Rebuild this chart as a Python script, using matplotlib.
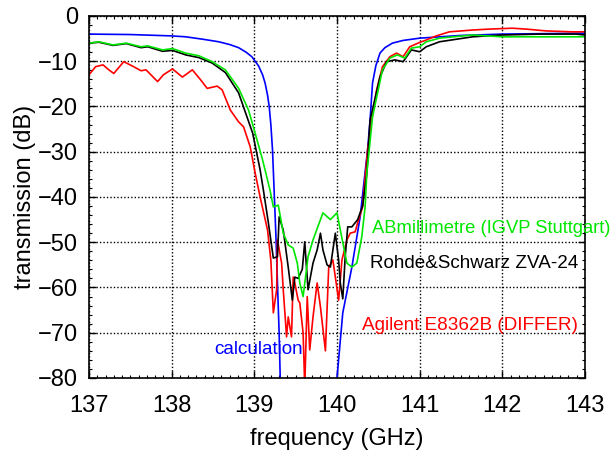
import matplotlib
matplotlib.use("Agg")
import matplotlib.pyplot as plt
from matplotlib.ticker import MultipleLocator

plt.rcParams['font.family'] = ['Liberation Sans', 'DejaVu Sans']

# ---- data (frequency in GHz, transmission in dB) ----
calc_f = [137.0, 137.5, 138.0, 138.17, 138.4, 138.57, 138.7, 138.81, 138.9, 138.97,
          139.05, 139.10, 139.13, 139.16, 139.18, 139.20, 139.22, 139.26, 139.30, 139.32,
          139.5, 139.8, 139.97, 140.00, 140.07, 140.18, 140.28, 140.37, 140.40, 140.43,
          140.47, 140.52, 140.58, 140.67, 140.80, 141.0, 141.5, 142.0, 143.0]
calc_db = [-4.0, -4.1, -4.4, -4.6, -5.2, -5.7, -6.3, -7.0, -8.0, -9.0,
           -11.0, -13.0, -14.8, -17.5, -20.0, -24.0, -29.6, -48.0, -70.0, -85.0,
           -100.0, -100.0, -90.0, -80.0, -65.6, -55.5, -44.4, -29.6, -23.0, -14.8,
           -11.0, -8.2, -7.0, -6.0, -5.4, -4.9, -4.3, -4.0, -3.8]

abm_f = [137.00, 137.12, 137.29, 137.45, 137.63, 137.71, 137.89, 138.01, 138.17, 138.33,
         138.49, 138.65, 138.81, 138.93, 139.01, 139.10, 139.19, 139.23, 139.29, 139.35,
         139.41, 139.47, 139.52, 139.55, 139.59, 139.65, 139.71, 139.80, 139.83, 139.92,
         140.00, 140.04, 140.12, 140.18, 140.24, 140.30, 140.34, 140.36, 140.43, 140.55,
         140.64, 140.73, 140.82, 140.90, 141.00, 141.08, 141.24, 141.64, 142.00, 142.45, 143.0]
abm_db = [-6.0, -5.7, -6.4, -6.0, -6.8, -6.6, -7.5, -7.2, -8.2, -8.8,
          -10.1, -11.9, -16.0, -20.8, -25.9, -31.8, -38.5, -42.2, -41.8, -48.0,
          -50.6, -51.3, -54.6, -59.0, -62.0, -53.2, -49.5, -45.0, -43.5, -45.0,
          -43.5, -47.3, -54.6, -55.5, -54.6, -48.8, -42.2, -35.0, -22.3, -11.9,
          -9.3, -8.6, -9.3, -7.1, -6.8, -5.7, -4.9, -4.2, -4.6, -4.6, -4.6]

rs_f = [137.00, 137.12, 137.29, 137.45, 137.63, 137.71, 137.89, 138.01, 138.17, 138.33,
        138.49, 138.65, 138.81, 138.98, 139.07, 139.11, 139.17, 139.23, 139.28, 139.30,
        139.35, 139.41, 139.46, 139.49, 139.53, 139.58, 139.61, 139.65, 139.71, 139.76,
        139.80, 139.83, 139.88, 139.92, 139.98, 140.02, 140.04, 140.07, 140.10, 140.13,
        140.18, 140.25, 140.31, 140.36, 140.40, 140.52, 140.60, 140.70, 140.80, 140.90,
        141.00, 141.08, 141.24, 141.64, 142.00, 142.45, 142.89, 143.0]
rs_db = [-6.0, -5.8, -6.5, -6.1, -7.0, -6.8, -7.8, -7.6, -8.6, -9.2,
         -10.4, -12.5, -17.0, -25.9, -34.0, -38.5, -45.7, -53.5, -53.2, -44.4,
         -47.3, -55.5, -62.8, -57.7, -58.0, -56.0, -49.9, -60.5, -54.6, -51.7,
         -48.0, -51.7, -55.0, -55.5, -48.0, -54.0, -59.0, -62.5, -53.0, -46.6,
         -46.6, -45.0, -42.0, -35.0, -23.0, -13.5, -10.1, -9.7, -10.1, -7.5,
         -7.9, -6.8, -5.7, -4.6, -4.2, -4.0, -4.0, -4.2]

ag_f = [137.00, 137.08, 137.17, 137.24, 137.30, 137.42, 137.54, 137.63, 137.69, 137.83,
        137.90, 138.01, 138.13, 138.25, 138.35, 138.43, 138.55, 138.61, 138.71, 138.81,
        138.87, 138.95, 139.01, 139.07, 139.16, 139.20, 139.23, 139.27, 139.28, 139.33,
        139.35, 139.39, 139.41, 139.45, 139.47, 139.49, 139.53, 139.55, 139.59, 139.61,
        139.64, 139.67, 139.71, 139.76, 139.80, 139.86, 139.90, 139.95, 140.02, 140.06,
        140.12, 140.16, 140.22, 140.25, 140.31, 140.37, 140.42, 140.48, 140.55, 140.64,
        140.72, 140.80, 140.88, 140.98, 141.08, 141.20, 141.36, 141.64, 141.84, 142.12,
        142.29, 142.53, 142.84, 143.0]
ag_db = [-13.0, -11.2, -10.8, -11.9, -12.7, -10.1, -11.2, -12.1, -11.9, -14.5,
         -13.0, -11.7, -13.5, -11.9, -14.1, -16.0, -15.5, -16.3, -20.8, -23.4,
         -24.5, -28.9, -34.7, -40.0, -47.3, -54.0, -65.6, -60.5, -49.5, -54.6,
         -60.5, -70.9, -66.5, -70.9, -57.7, -59.0, -62.8, -63.4, -70.0, -82.0,
         -62.0, -73.8, -66.5, -59.0, -64.3, -74.0, -55.5, -53.9, -62.8, -53.9,
         -49.5, -48.0, -47.7, -45.7, -42.2, -29.6, -23.0, -16.3, -11.2, -9.0,
         -8.2, -9.0, -6.8, -6.0, -5.3, -4.4, -3.5, -3.1, -2.9, -2.7,
         -2.9, -3.3, -3.5, -3.5]

labels = ["ABmillimetre (IGVP Stuttgart)", "Rohde&Schwarz ZVA-24",
          "Agilent E8362B (DIFFER)", "calculation"]

GREEN = '#00e600'

fig = plt.figure(figsize=(6.15, 4.53), dpi=100)
ax = fig.add_axes([0.1447, 0.1656, 0.8065, 0.7991])

ax.plot(calc_f, calc_db, color='#0000ff', lw=1.2)
ax.plot(ag_f, ag_db, color='#ff0000', lw=1.2)
ax.plot(rs_f, rs_db, color='black', lw=1.2)
ax.plot(abm_f, abm_db, color=GREEN, lw=1.2)

ax.set_xlim(137, 143)
ax.set_ylim(-80, 0)
ax.xaxis.set_major_locator(MultipleLocator(1))
ax.xaxis.set_minor_locator(MultipleLocator(0.1))
ax.yaxis.set_major_locator(MultipleLocator(10))
ax.yaxis.set_minor_locator(MultipleLocator(2))
ax.tick_params(which='both', direction='in', top=True, right=True, labelsize=17)
ax.tick_params(which='major', length=5, width=1)
ax.tick_params(which='minor', length=2.5, width=0.8)
ax.tick_params(axis='x', which='major', pad=12)
ax.tick_params(axis='y', which='major', pad=8)
ax.grid(True, which='major', color='black', linestyle=(0, (1, 1.5)), linewidth=1)
for s in ax.spines.values():
    s.set_linewidth(1.2)

ax.set_xlabel('frequency (GHz)', fontsize=17, labelpad=8)
ax.set_ylabel('transmission (dB)', fontsize=17, labelpad=1)

ax.text(140.42, -46.9, labels[0], color=GREEN, fontsize=13.2, ha='left', va='center', clip_on=False)
ax.text(140.40, -54.6, labels[1], color='black', fontsize=13.6, ha='left', va='center', clip_on=False)
ax.text(140.30, -68.5, labels[2], color='#ff0000', fontsize=13.6, ha='left', va='center', clip_on=False)
ax.text(138.51, -73.8, labels[3], color='#0000ff', fontsize=13.6, ha='left', va='center', clip_on=False)

fig.savefig('out.png', dpi=100)
